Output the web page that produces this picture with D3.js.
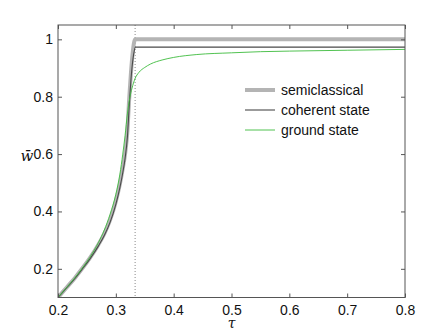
<!DOCTYPE html>
<style>
body { margin: 0; background: #fff; }
text { font-family: "Liberation Sans", Arial, sans-serif; fill: #111; }
</style>
<svg width="447" height="336"></svg>
<script src="https://cdn.jsdelivr.net/npm/d3@7"></script>
<script>

// semiclassical
var semiTau = [0.200, 0.215, 0.230, 0.2415, 0.255, 0.270, 0.280, 0.290, 0.300, 0.307, 0.312, 0.316, 0.320, 0.323, 0.326, 0.329, 0.3333, 0.800];
var semiW   = [0.100, 0.135, 0.170, 0.200, 0.237, 0.285, 0.322, 0.370, 0.435, 0.495, 0.550, 0.600, 0.680, 0.790, 0.880, 0.950, 1.000, 1.000];

// coherent state
var cohTau = [0.200, 0.215, 0.230, 0.2415, 0.255, 0.270, 0.280, 0.290, 0.300, 0.307, 0.312, 0.316, 0.320, 0.3235, 0.327, 0.331, 0.3338, 0.800];
var cohW   = [0.100, 0.134, 0.168, 0.198, 0.234, 0.280, 0.316, 0.362, 0.425, 0.483, 0.535, 0.585, 0.660, 0.780, 0.880, 0.950, 0.973, 0.973];

// ground state
var gndTau = [0.200, 0.215, 0.230, 0.2415, 0.255, 0.270, 0.280, 0.290, 0.300, 0.307, 0.312, 0.316, 0.320, 0.324, 0.328, 0.333, 0.340, 0.350, 0.360, 0.380, 0.400, 0.440, 0.500, 0.550, 0.600, 0.700, 0.800];
var gndW   = [0.100, 0.135, 0.171, 0.201, 0.240, 0.292, 0.335, 0.390, 0.460, 0.530, 0.600, 0.665, 0.740, 0.795, 0.830, 0.862, 0.885, 0.902, 0.914, 0.928, 0.937, 0.947, 0.953, 0.957, 0.959, 0.962, 0.965];

var xTicks = [0.2, 0.3, 0.4, 0.5, 0.6, 0.7, 0.8];
var yTicks = [0.2, 0.4, 0.6, 0.8, 1];
var tauCrit = 1 / 3;

var legendLabels = ["semiclassical", "coherent state", "ground state"];

var svg = d3.select("svg"),
    x0 = 58, x1 = 405, y0 = 25, y1 = 297.5;

var x = d3.scaleLinear().domain([0.2, 0.8]).range([x0, x1]);
var y = d3.scaleLinear().domain([0.1, 1.05]).range([y1, y0]);

var series = [
  {tau: semiTau, w: semiW, color: "#b4b4b4", width: 4},
  {tau: cohTau, w: cohW, color: "#4a4a4a", width: 1.1},
  {tau: gndTau, w: gndW, color: "#3dbb3d", width: 0.9}
];

var line = d3.line()
    .x(function(d) { return x(d[0]); })
    .y(function(d) { return y(d[1]); })
    .curve(d3.curveMonotoneX);

var plot = svg.append("g");

plot.append("clipPath").attr("id", "clip")
  .append("rect")
    .attr("x", x0).attr("y", y0)
    .attr("width", x1 - x0).attr("height", y1 - y0);

// dotted marker at tau = 1/3
plot.append("line")
    .attr("x1", x(tauCrit)).attr("x2", x(tauCrit))
    .attr("y1", y0).attr("y2", y1)
    .attr("stroke", "#888")
    .attr("stroke-width", 1)
    .attr("stroke-dasharray", "1,2");

var curves = plot.append("g").attr("clip-path", "url(#clip)");

series.forEach(function(s) {
  curves.append("path")
      .datum(d3.zip(s.tau, s.w))
      .attr("fill", "none")
      .attr("stroke", s.color)
      .attr("stroke-width", s.width)
      .attr("stroke-linejoin", "round")
      .attr("d", line);
});

// axes (MATLAB style box, ticks pointing inward on all sides)
function styleAxis(g) {
  g.select(".domain").remove();
  g.selectAll(".tick line").attr("stroke", "#555");
  g.selectAll(".tick text").style("font-size", "14px").attr("fill", "#111");
}

svg.append("g")
    .attr("transform", "translate(0," + y1 + ")")
    .call(d3.axisBottom(x).tickValues(xTicks).tickSize(-4).tickPadding(8).tickFormat(String))
    .call(styleAxis);

svg.append("g")
    .attr("transform", "translate(0," + y0 + ")")
    .call(d3.axisTop(x).tickValues(xTicks).tickSize(-4).tickFormat(""))
    .call(styleAxis);

svg.append("g")
    .attr("transform", "translate(" + x0 + ",0)")
    .call(d3.axisLeft(y).tickValues(yTicks).tickSize(-4).tickPadding(5).tickFormat(String))
    .call(styleAxis);

svg.append("g")
    .attr("transform", "translate(" + x1 + ",0)")
    .call(d3.axisRight(y).tickValues(yTicks).tickSize(-4).tickFormat(""))
    .call(styleAxis);

svg.append("rect")
    .attr("x", x0).attr("y", y0)
    .attr("width", x1 - x0).attr("height", y1 - y0)
    .attr("fill", "none")
    .attr("stroke", "#555")
    .attr("stroke-width", 1);

// axis labels
svg.append("text")
    .attr("x", x(0.5))
    .attr("y", 328)
    .attr("text-anchor", "middle")
    .style("font-family", "'DejaVu Serif', serif")
    .style("font-style", "italic")
    .style("font-size", "14px")
    .text("τ");

svg.append("text")
    .attr("x", 27)
    .attr("y", 161)
    .attr("text-anchor", "middle")
    .style("font-family", "'DejaVu Serif', serif")
    .style("font-style", "italic")
    .style("font-size", "15px")
    .text("w\u0304");

// legend
var legend = svg.append("g")
    .selectAll("g")
    .data(series)
    .enter().append("g")
    .attr("transform", function(d, i) { return "translate(245," + (90 + i * 20) + ")"; });

legend.append("line")
    .attr("x1", 0).attr("x2", 30)
    .attr("stroke", function(d) { return d.color; })
    .attr("stroke-width", function(d) { return d.width; });

legend.append("text")
    .attr("x", 36)
    .attr("dy", "0.35em")
    .style("font-size", "14px")
    .text(function(d, i) { return legendLabels[i]; });

</script>
